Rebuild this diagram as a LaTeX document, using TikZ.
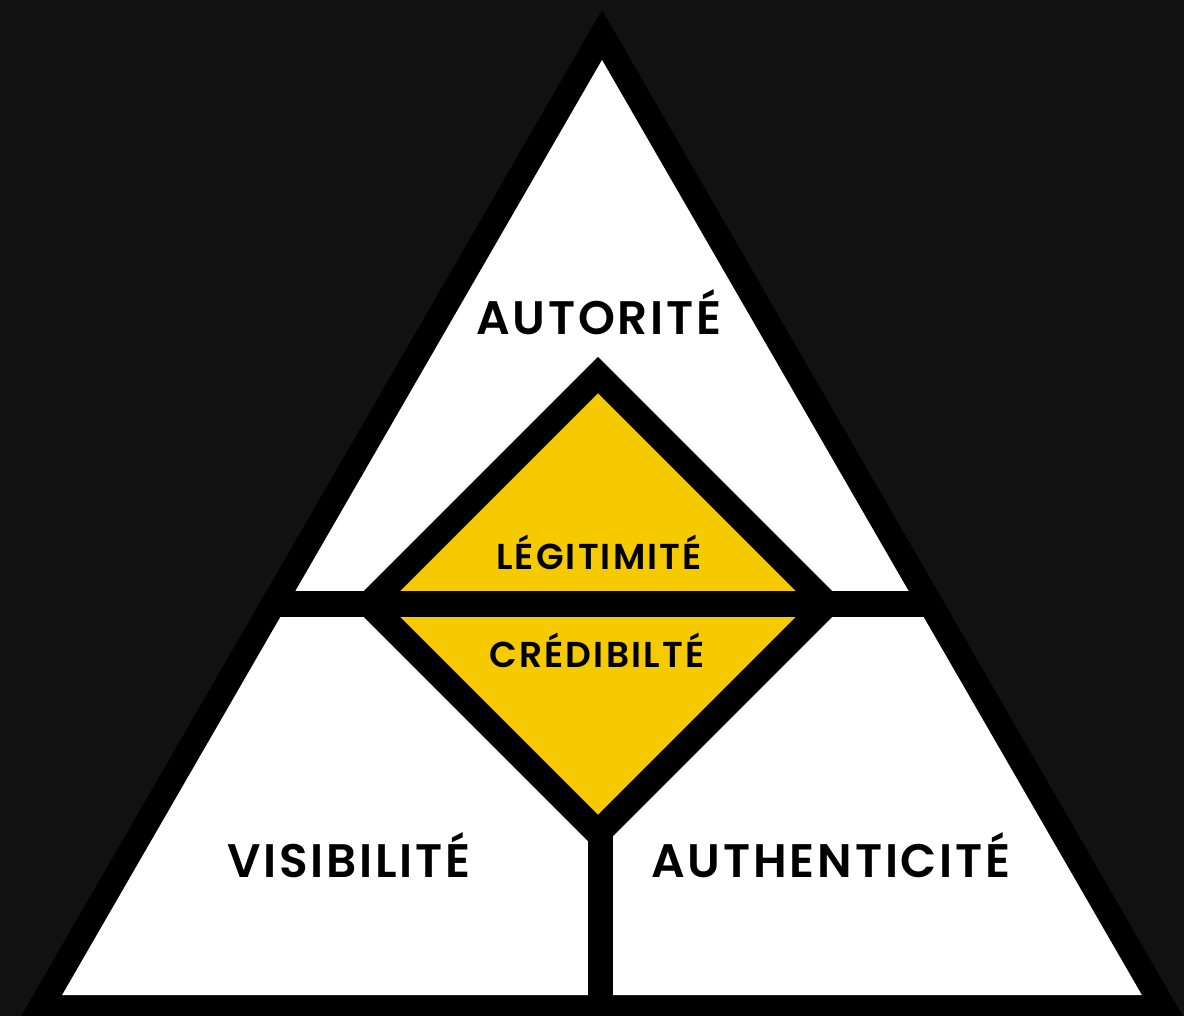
\documentclass[tikz,border=0pt]{standalone}
\usepackage{fontspec}
\setmainfont{Poppins}
\newfontfamily\lblfont{Poppins SemiBold}[LetterSpace=6]
\definecolor{bgdark}{HTML}{111111}
\definecolor{pyellow}{HTML}{F5CA00}
\begin{document}
\begin{tikzpicture}[x=1pt,y=-1pt,
  lbl/.style={anchor=base,inner sep=0pt,text=black},
  bigl/.style={lbl,font=\lblfont\fontsize{47}{50}\selectfont},
  midl/.style={lbl,font=\lblfont\fontsize{36}{40}\selectfont},
  band/.style={fill=black}]
\useasboundingbox (0,0) rectangle (1184,1016);
\clip (0,0) rectangle (1184,1016);
\fill[bgdark] (0,0) rectangle (1184,1016);
% outer black triangle
\fill[black] (602,10) -- (602-1040*0.57735,1050) -- (602+1040*0.57735,1050) -- cycle;
% inner white triangle
\fill[white] (602,60) -- (602-935*0.57735,995) -- (602+935*0.57735,995) -- cycle;
% horizontal band
\fill[band] (270,591) rectangle (935,617);
% vertical stem
\fill[band] (588,700) rectangle (613,1000);
% diamond
\coordinate (dc) at (598,604);
\filldraw[fill=pyellow,draw=black,line width=25.5pt,line join=miter]
  (598,375) -- (827,604) -- (598,833) -- (369,604) -- cycle;
\draw[black,line width=26pt] (365,604) -- (831,604);
% labels
\node[bigl] (aut) at (599,335) {AUTORITÉ};
\node[midl] (leg) at (599,569) {LÉGITIMITÉ};
\node[midl] (cred) at (597,667) {CRÉDIBILTÉ};
\node[bigl] (vis) at (349,877) {VISIBILITÉ};
\node[bigl] (auth) at (831,877) {AUTHENTICITÉ};
\end{tikzpicture}
\end{document}
